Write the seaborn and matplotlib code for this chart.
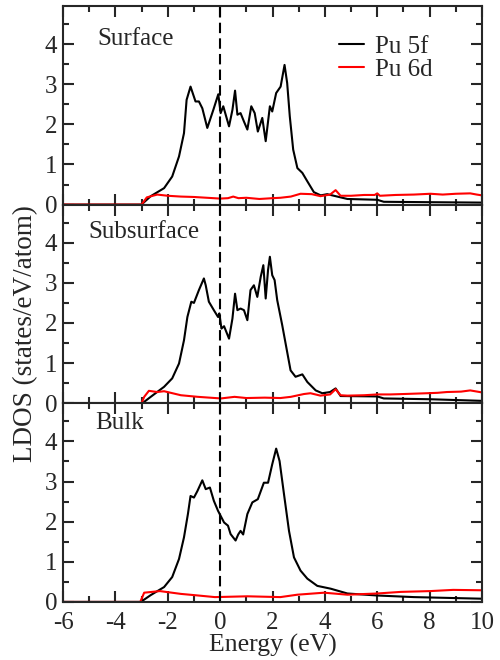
import numpy as np
import matplotlib
matplotlib.use('Agg')
import matplotlib.pyplot as plt
import seaborn as sns
from matplotlib.ticker import MultipleLocator

# Surface, Pu 5f
surf_f_e = [-6, -3.0, -2.97, -2.65, -2.14, -1.83, -1.57, -1.38, -1.28, -1.13, -0.94, -0.81, -0.68, -0.49,
            -0.26, -0.07, 0.02, 0.12, 0.34, 0.47, 0.57, 0.66, 0.78, 0.91, 1.04, 1.19, 1.32, 1.44, 1.61,
            1.74, 1.90, 1.99, 2.14, 2.31, 2.46, 2.56, 2.66, 2.79, 2.95, 3.14, 3.33, 3.58, 3.84, 4.09,
            4.86, 6.0, 6.25, 8.03, 10]
surf_f = [0, 0, 0.02, 0.21, 0.41, 0.70, 1.20, 1.78, 2.61, 2.94, 2.57, 2.57, 2.40, 1.91,
          2.36, 2.75, 2.28, 2.45, 1.95, 2.36, 2.84, 2.24, 2.28, 2.07, 1.87, 2.45, 2.28, 1.82, 2.16,
          1.58, 2.45, 2.32, 2.78, 2.94, 3.48, 3.03, 2.20, 1.37, 0.91, 0.79, 0.58, 0.31, 0.23, 0.26,
          0.14, 0.12, 0.07, 0.06, 0.05]
# Surface, Pu 6d
surf_d_e = [-6, -3.0, -2.8, -2.4, -2.0, -1.5, -1.0, -0.5, 0.0, 0.3, 0.5, 0.7, 1.0, 1.5, 2.0, 2.3, 2.7,
            3.07, 3.5, 3.83, 4.2, 4.41, 4.6, 5.0, 5.5, 5.9, 6.0, 6.1, 6.7, 7.4, 8.03, 8.5, 9.0, 9.55, 9.8, 10]
surf_d = [0, 0, 0.18, 0.25, 0.22, 0.20, 0.19, 0.17, 0.15, 0.16, 0.20, 0.16, 0.17, 0.14, 0.16, 0.17, 0.20,
          0.27, 0.26, 0.21, 0.25, 0.36, 0.22, 0.22, 0.24, 0.24, 0.28, 0.22, 0.24, 0.25, 0.27, 0.25, 0.27, 0.28, 0.25, 0.23]

# Subsurface, Pu 5f
sub_f_e = [-6, -3.0, -2.97, -2.65, -2.14, -1.83, -1.57, -1.38, -1.25, -1.10, -1.0, -0.81, -0.62, -0.55,
           -0.43, -0.24, -0.08, -0.03, 0.05, 0.15, 0.34, 0.47, 0.57, 0.66, 0.78, 0.91, 1.04, 1.16, 1.29,
           1.42, 1.55, 1.65, 1.74, 1.83, 1.90, 1.99, 2.08, 2.18, 2.37, 2.5, 2.69, 2.88, 3.14, 3.33, 3.65,
           3.9, 4.2, 4.41, 4.6, 6.0, 6.25, 8.03, 10]
sub_f = [0, 0, 0.0, 0.16, 0.41, 0.62, 0.99, 1.57, 2.15, 2.53, 2.50, 2.82, 3.11, 2.94,
         2.53, 2.32, 2.15, 2.24, 1.86, 1.92, 1.61, 2.11, 2.73, 2.32, 2.36, 2.32, 2.07, 2.82, 2.94,
         2.65, 3.15, 3.44, 2.61, 3.32, 3.65, 3.19, 3.07, 2.57, 1.95, 1.49, 0.82, 0.66, 0.72, 0.53, 0.32,
         0.25, 0.28, 0.37, 0.18, 0.17, 0.12, 0.10, 0.06]
# Subsurface, Pu 6d
sub_d_e = [-6, -3.0, -2.9, -2.72, -2.4, -2.14, -1.5, -0.85, 0.03, 0.55, 1.0, 1.7, 2.3, 2.7, 3.2, 3.45,
           3.83, 4.2, 4.41, 4.6, 4.86, 5.5, 6.0, 6.5, 7.0, 7.9, 8.3, 8.66, 9.2, 9.55, 10]
sub_d = [0, 0, 0.16, 0.31, 0.28, 0.30, 0.20, 0.16, 0.12, 0.16, 0.13, 0.14, 0.13, 0.16, 0.23, 0.25,
         0.19, 0.22, 0.35, 0.20, 0.19, 0.20, 0.22, 0.22, 0.23, 0.25, 0.26, 0.28, 0.29, 0.32, 0.27]

# Bulk, Pu 5f
bulk_f_e = [-6, -3.03, -2.65, -2.14, -1.83, -1.57, -1.38, -1.23, -1.13, -1.0, -0.87, -0.68, -0.55, -0.39,
            -0.24, -0.08, 0.15, 0.3, 0.4, 0.59, 0.69, 0.78, 0.88, 1.04, 1.23, 1.44, 1.67, 1.83, 1.99, 2.14,
            2.27, 2.44, 2.63, 2.82, 3.07, 3.33, 3.71, 4.22, 4.86, 6.0, 7.4, 10]
bulk_f = [0, 0, 0.17, 0.37, 0.62, 1.07, 1.61, 2.19, 2.64, 2.60, 2.76, 3.03, 2.81, 2.85,
          2.52, 2.27, 1.98, 1.90, 1.69, 1.53, 1.68, 1.77, 1.68, 2.19, 2.48, 2.56, 2.97, 2.97, 3.43, 3.82,
          3.51, 2.68, 1.77, 1.11, 0.78, 0.58, 0.40, 0.33, 0.21, 0.16, 0.12, 0.08]
# Bulk, Pu 6d
bulk_d_e = [-6, -3.05, -2.9, -2.3, -1.5, -1.0, -0.2, 1.04, 2.3, 2.95, 3.97, 4.86, 6.0, 6.9, 8.03, 8.9, 10]
bulk_d = [0, 0, 0.23, 0.27, 0.20, 0.17, 0.12, 0.14, 0.12, 0.18, 0.23, 0.18, 0.21, 0.25, 0.27, 0.30, 0.29]

panels = ["Surface", "Subsurface", "Bulk"]
f_series = [(surf_f_e, surf_f), (sub_f_e, sub_f), (bulk_f_e, bulk_f)]
d_series = [(surf_d_e, surf_d), (sub_d_e, sub_d), (bulk_d_e, bulk_d)]
label_pos = [(0.081, 0.834), (0.06, 0.86), (0.076, 0.90)]

sns.set_style("ticks")
plt.rcParams['font.family'] = ['Liberation Serif', 'DejaVu Serif']
plt.rcParams['axes.linewidth'] = 1.5
plt.rcParams['axes.unicode_minus'] = False

fig, axes = plt.subplots(3, 1, figsize=(5, 6.6), dpi=100, sharex=True)
fig.subplots_adjust(left=0.126, right=0.964, bottom=0.088, top=0.991, hspace=0)

for i, ax in enumerate(axes):
    sns.lineplot(x=f_series[i][0], y=f_series[i][1], color='black', lw=1.5, ax=ax,
                 label='Pu 5f' if i == 0 else None)
    sns.lineplot(x=d_series[i][0], y=d_series[i][1], color='red', lw=1.5, ax=ax,
                 label='Pu 6d' if i == 0 else None)
    ax.axvline(0, color='black', ls=(0, (5, 2.5)), lw=1.5)
    ax.set_xlim(-6, 10)
    ax.set_ylim(0, 4.95)
    ax.xaxis.set_major_locator(MultipleLocator(2))
    ax.xaxis.set_minor_locator(MultipleLocator(1))
    ax.yaxis.set_major_locator(MultipleLocator(1))
    ax.yaxis.set_minor_locator(MultipleLocator(0.5))
    ax.tick_params(which='both', direction='in', top=True, right=True, width=1.5, labelsize=18)
    ax.tick_params(axis='y', pad=4)
    ax.tick_params(axis='x', pad=7)
    ax.tick_params(which='major', length=8)
    ax.tick_params(which='minor', length=4)
    ax.text(label_pos[i][0], label_pos[i][1], panels[i], transform=ax.transAxes, fontsize=18, va='center')
    ax.set_ylabel('')

axes[0].legend(loc='upper left', bbox_to_anchor=(0.658, 0.85), frameon=False, fontsize=18,
               handlelength=1.0, handletextpad=0.45, labelspacing=0.0, borderpad=0, borderaxespad=0)
axes[2].set_xlabel('Energy (eV)', fontsize=18.5, labelpad=0)
fig.text(0.052, 0.495, 'LDOS (states/eV/atom)', rotation=90, fontsize=19.5, va='center', ha='center')

plt.savefig('out.png', dpi=100)
